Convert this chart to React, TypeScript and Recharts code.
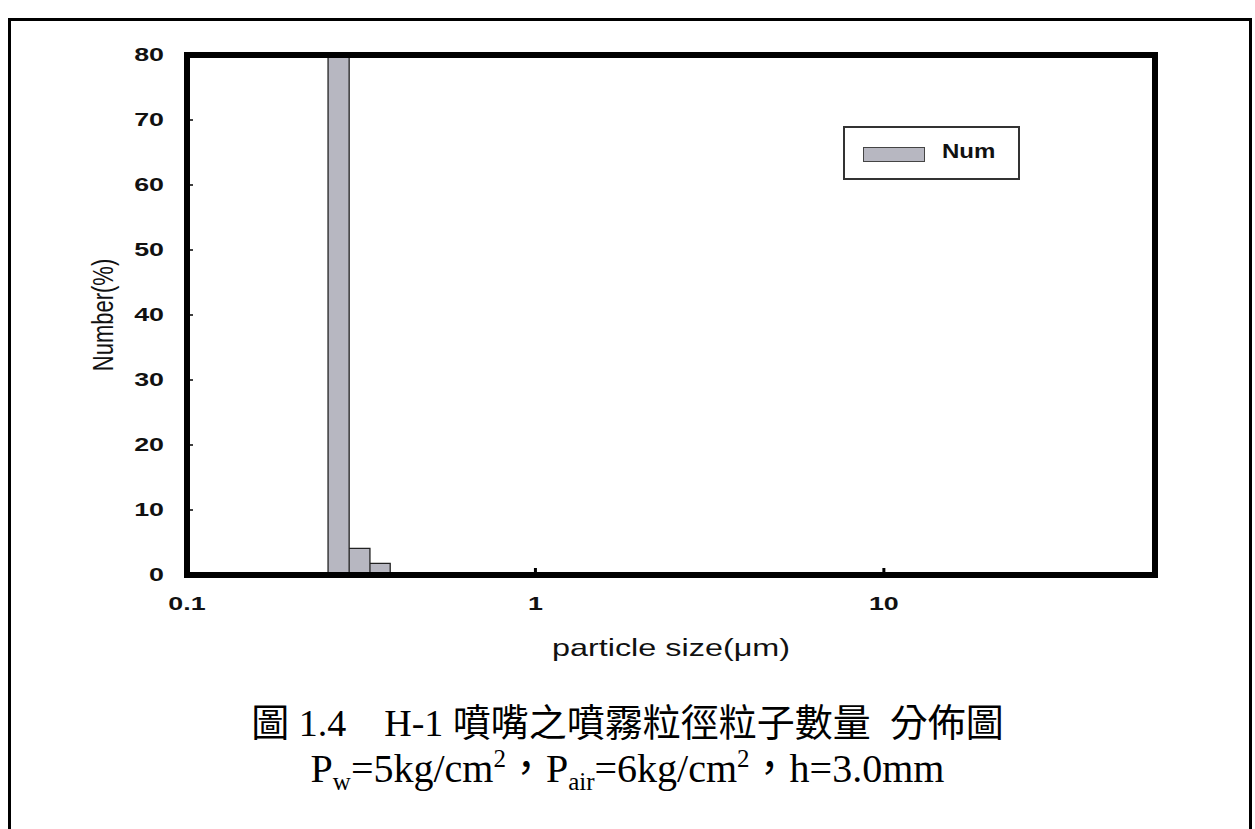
import React from "react";
import { ComposedChart, Area, XAxis, YAxis, Legend, ReferenceArea } from "recharts";

// particle size bins (µm, lower edges + final upper edge) and number %
const binEdges = [0.254, 0.292, 0.335, 0.383, 0.437];
const binValues = [93.5, 4.1, 1.8, 0.3];
const seriesName = "Num";
const xDomain = [0.1, 60];
const yDomain = [0, 80];
const xTicks = [0.1, 1, 10];
const yTicks = [0, 10, 20, 30, 40, 50, 60, 70, 80];

// histogram outline as a step series: up each bin edge, across, back down
const histData = binValues
  .flatMap((v, i) => [
    { size: binEdges[i], num: 0 },
    { size: binEdges[i], num: v },
  ])
  .concat([{ size: binEdges[binEdges.length - 1], num: 0 }]);

const BAR_FILL = "#b7b7c1";
const SANS = "'Liberation Sans', Arial, sans-serif";
const STRETCH = 1.45; // scanned figure text is a bit wide

function YTick(props: any) {
  const { x, y, payload } = props;
  return (
    <text
      transform={`translate(${x},${y}) scale(${STRETCH},1)`}
      textAnchor="end"
      dominantBaseline="central"
      fontFamily={SANS}
      fontWeight="bold"
      fontSize={18.5}
      fill="#111"
    >
      {payload.value}
    </text>
  );
}

function XTick(props: any) {
  const { x, y, payload } = props;
  return (
    <text
      transform={`translate(${x},${y}) scale(${STRETCH},1)`}
      textAnchor="middle"
      dominantBaseline="central"
      fontFamily={SANS}
      fontWeight="bold"
      fontSize={18.5}
      fill="#111"
    >
      {payload.value}
    </text>
  );
}

function XTitle(props: any) {
  const vb = props.viewBox;
  return (
    <text
      transform={`translate(${vb.x + vb.width / 2},${vb.y + 73}) scale(1.35,1)`}
      textAnchor="middle"
      dominantBaseline="central"
      fontFamily={SANS}
      fontSize={24}
      fill="#111"
    >
      particle size(μm)
    </text>
  );
}

function YTitle(props: any) {
  const vb = props.viewBox;
  return (
    <text
      transform={`translate(103,${vb.y + vb.height / 2}) rotate(-90) scale(1,1.3)`}
      textAnchor="middle"
      dominantBaseline="central"
      fontFamily={SANS}
      fontSize={22}
      fill="#111"
    >
      Number(%)
    </text>
  );
}

function LegendBox(props: any) {
  const item = props.payload && props.payload[0];
  return (
    <div
      style={{
        width: 177,
        height: 54,
        boxSizing: "border-box",
        border: "2px solid #333",
        background: "#fff",
        position: "relative",
      }}
    >
      <span
        style={{
          position: "absolute",
          left: 18,
          top: 19,
          width: 62,
          height: 15,
          boxSizing: "border-box",
          background: BAR_FILL,
          border: "1.5px solid #444",
        }}
      />
      <span
        style={{
          position: "absolute",
          left: 97,
          top: 12,
          fontFamily: SANS,
          fontWeight: "bold",
          fontSize: 20,
          color: "#111",
          transform: "scaleX(1.2)",
          transformOrigin: "left center",
        }}
      >
        {item ? item.value : seriesName}
      </span>
    </div>
  );
}

const supStyle = { fontSize: 25, position: "relative" as const, top: -15 };
const subStyle = { fontSize: 25, position: "relative" as const, top: 8 };

export default function App() {
  return (
    <div
      style={{
        position: "absolute",
        left: 0,
        top: 0,
        width: 1255,
        height: 829,
        overflow: "hidden",
        background: "#fff",
      }}
    >
      <div
        style={{
          position: "absolute",
          left: 8,
          top: 18,
          width: 1244,
          height: 900,
          boxSizing: "border-box",
          border: "3px solid #000",
        }}
      />
      <div style={{ position: "absolute", left: 0, top: 0 }}>
        <ComposedChart
          width={1255}
          height={700}
          data={histData}
          margin={{ top: 55, right: 100, left: 0, bottom: 35 }}
        >
          <XAxis
            dataKey="size"
            type="number"
            scale="log"
            domain={xDomain}
            allowDataOverflow
            ticks={xTicks}
            height={90}
            axisLine={false}
            tickLine={{ stroke: "#000", strokeWidth: 3 }}
            tickSize={-7}
            tickMargin={36}
            tick={<XTick />}
            interval={0}
            label={XTitle}
          />
          <YAxis
            type="number"
            domain={yDomain}
            allowDataOverflow
            ticks={yTicks}
            width={187}
            axisLine={false}
            tickLine={{ stroke: "#000", strokeWidth: 1.5 }}
            tickSize={-6}
            tickMargin={29}
            tick={<YTick />}
            interval={0}
            label={YTitle}
          />
          <Legend
            layout="horizontal"
            verticalAlign="middle"
            align="center"
            wrapperStyle={{ top: 126, left: 843, width: 177, height: 54 }}
            content={<LegendBox />}
          />
          <Area
            type="stepAfter"
            dataKey="num"
            name={seriesName}
            stroke="#222"
            strokeWidth={1.3}
            fill={BAR_FILL}
            fillOpacity={1}
            dot={false}
            activeDot={false}
            isAnimationActive={false}
          />
          <ReferenceArea
            x1={xDomain[0]}
            x2={xDomain[1]}
            y1={yDomain[0]}
            y2={yDomain[1]}
            fill="none"
            fillOpacity={0}
            stroke="#000"
            strokeWidth={6}
            ifOverflow="visible"
          />
        </ComposedChart>
      </div>
      <div
        style={{
          position: "absolute",
          left: 0,
          top: 700,
          width: 1255,
          textAlign: "center",
          fontFamily: "'Liberation Serif', 'Times New Roman', 'Noto Sans CJK TC', serif",
          fontSize: 38,
          lineHeight: "46px",
          color: "#000",
          whiteSpace: "pre",
        }}
      >
        {"圖 1.4\u3000H-1 噴嘴之噴霧粒徑粒子數量  分佈圖"}
      </div>
      <div
        style={{
          position: "absolute",
          left: 0,
          top: 746,
          width: 1255,
          textAlign: "center",
          fontFamily: "'Liberation Serif', 'Times New Roman', 'Noto Sans CJK TC', serif",
          fontSize: 40,
          lineHeight: "46px",
          color: "#000",
        }}
      >
        P<span style={subStyle}>w</span>=5kg/cm<span style={supStyle}>2</span>，P
        <span style={subStyle}>air</span>=6kg/cm<span style={supStyle}>2</span>，h=3.0mm
      </div>
    </div>
  );
}
